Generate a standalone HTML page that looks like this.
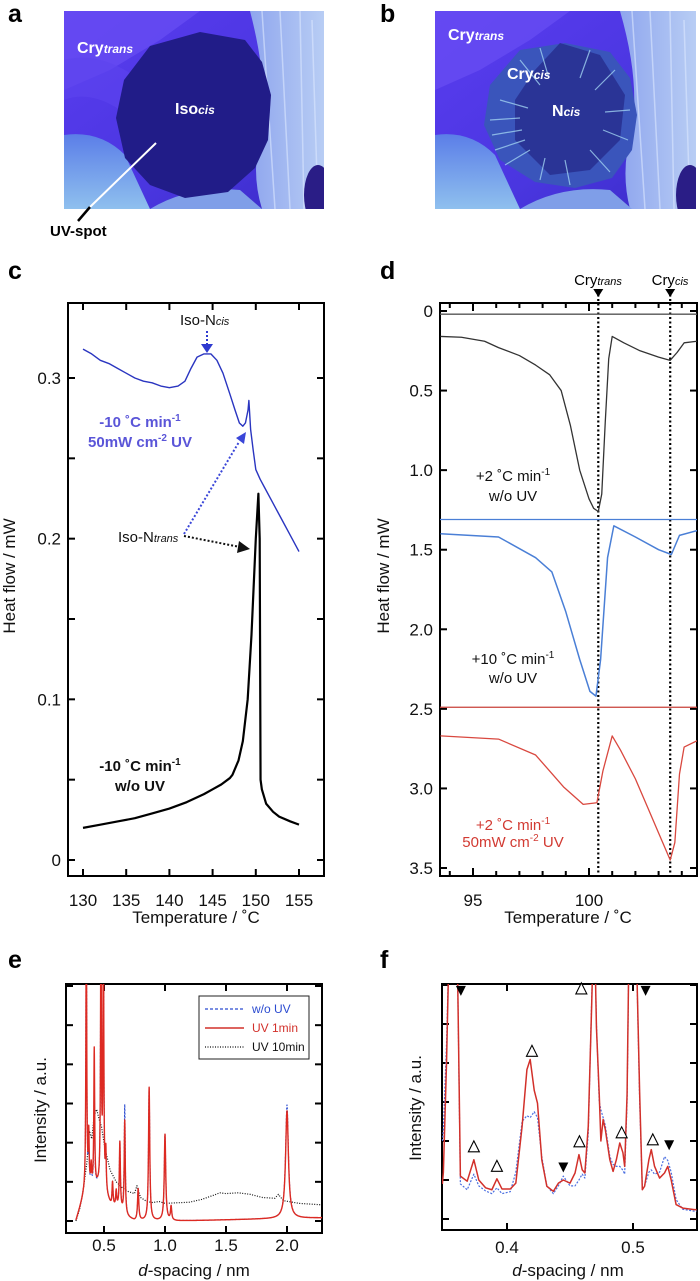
<!DOCTYPE html>
<html><head><meta charset="utf-8">
<style>
html,body{margin:0;padding:0;background:#fff;}
svg{display:block;font-family:"Liberation Sans",Arial,sans-serif;}
.tk{font-size:17px;fill:#111;}
.ttl{font-size:17px;fill:#111;}
.let{font-size:25px;font-weight:bold;fill:#000;}
.ann{font-size:15px;}
.img{font-weight:bold;fill:#fff;}
</style></head>
<body>
<svg id="fig" width="700" height="1281" viewBox="0 0 700 1281" xmlns="http://www.w3.org/2000/svg">
<defs>
<clipPath id="clipA"><rect x="64" y="11" width="260" height="198"/></clipPath>
<clipPath id="clipB"><rect x="435" y="11" width="261" height="198"/></clipPath>
<clipPath id="clipC"><rect x="68" y="303" width="256" height="573"/></clipPath>
<clipPath id="clipD"><rect x="440" y="303" width="257" height="573"/></clipPath>
<clipPath id="clipE"><rect x="66" y="984" width="256" height="249"/></clipPath>
<clipPath id="clipF"><rect x="442" y="984" width="255" height="246"/></clipPath>
<linearGradient id="gBg" x1="0" y1="0" x2="1" y2="1"><stop offset="0" stop-color="#5a3cf0"/><stop offset="0.6" stop-color="#4a36e0"/><stop offset="1" stop-color="#3a2cc8"/></linearGradient>
<linearGradient id="gLight" x1="0" y1="0" x2="1" y2="0"><stop offset="0" stop-color="#8fa6ee"/><stop offset="1" stop-color="#b8cdf4"/></linearGradient>
<linearGradient id="gCyan" x1="0" y1="0" x2="0" y2="1"><stop offset="0" stop-color="#5b7ee8"/><stop offset="1" stop-color="#8fc0ee"/></linearGradient>
</defs>

<text class="let" x="8" y="22">a</text>
<text class="let" x="380" y="22">b</text>
<text class="let" x="8" y="279">c</text>
<text class="let" x="380" y="279">d</text>
<text class="let" x="8" y="968">e</text>
<text class="let" x="380" y="968">f</text>

<g clip-path="url(#clipA)">
<rect x="64" y="11" width="260" height="198" fill="url(#gBg)"/>
<path d="M64,11 L200,11 L160,40 L110,70 L64,90 Z" fill="#6a4ef4" opacity="0.7"/>
<path d="M64,60 Q100,50 140,80 L120,110 Q90,90 64,100 Z" fill="#5d44ee" opacity="0.6"/>
<path d="M250,11 L324,11 L324,209 L262,209 Q250,170 262,130 Q268,80 250,11 Z" fill="url(#gLight)"/>
<path d="M262,11 L275,209 M280,11 L290,209 M300,11 L304,209 M312,20 L318,209" stroke="#dce8ff" stroke-width="1.5" opacity="0.6"/>
<path d="M64,135 Q100,130 125,155 L150,209 L64,209 Z" fill="url(#gCyan)"/>
<path d="M150,209 Q190,185 240,190 L262,209 Z" fill="#7f9ee8"/>
<ellipse cx="318" cy="195" rx="14" ry="30" fill="#2a1d86"/>
<path d="M150,46 L200,32 L245,40 L262,62 L271,95 L268,140 L255,168 L228,192 L185,198 L150,185 L125,158 L116,118 L124,80 Z" fill="#211c88"/>
<text class="img" x="77" y="53" font-size="16">Cry<tspan font-style="italic" font-size="12">trans</tspan></text>
<text class="img" x="175" y="114" font-size="16">Iso<tspan font-style="italic" font-size="12">cis</tspan></text>
<line x1="156" y1="143" x2="90" y2="207" stroke="#fff" stroke-width="2"/>
</g>
<line x1="90" y1="207" x2="78" y2="221" stroke="#000" stroke-width="2.5"/>
<text x="50" y="236" font-size="15" font-weight="bold">UV-spot</text>

<g clip-path="url(#clipB)">
<rect x="435" y="11" width="261" height="198" fill="url(#gBg)"/>
<path d="M435,11 L570,11 L530,40 L480,70 L435,90 Z" fill="#6a4ef4" opacity="0.7"/>
<path d="M620,11 L696,11 L696,209 L630,209 Q620,170 632,130 Q640,80 620,11 Z" fill="url(#gLight)"/>
<path d="M632,11 L645,209 M650,11 L660,209 M670,11 L674,209 M684,20 L690,209" stroke="#dce8ff" stroke-width="1.5" opacity="0.6"/>
<path d="M435,135 Q470,130 495,155 L520,209 L435,209 Z" fill="url(#gCyan)"/>
<path d="M520,209 Q560,185 610,190 L632,209 Z" fill="#7f9ee8"/>
<ellipse cx="690" cy="195" rx="14" ry="30" fill="#2a1d86"/>
<path d="M520,50 L565,43 L610,52 L630,78 L637,115 L632,150 L612,178 L575,188 L535,182 L500,160 L484,125 L490,85 Z" fill="#3a55bb"/>
<path d="M535,70 L560,43 L600,55 L625,95 L620,140 L590,170 L550,175 L515,140 L515,100 Z" fill="#2a3496"/>
<g stroke="#9fd0f0" stroke-width="1.2" opacity="0.8">
<path d="M490,120 L520,118 M492,135 L522,130 M495,150 L525,140 M500,100 L528,108 M505,165 L530,150 M520,60 L540,85 M540,48 L548,75 M590,50 L580,78 M615,70 L595,90 M630,110 L605,112 M628,140 L603,130 M610,172 L590,150 M570,185 L565,160 M540,180 L545,158"/>
</g>
<text class="img" x="448" y="40" font-size="16">Cry<tspan font-style="italic" font-size="12">trans</tspan></text>
<text class="img" x="507" y="79" font-size="16">Cry<tspan font-style="italic" font-size="12">cis</tspan></text>
<text class="img" x="552" y="116" font-size="16">N<tspan font-style="italic" font-size="12">cis</tspan></text>
</g>

<g>
<rect x="68" y="303" width="256" height="573" fill="none" stroke="#000" stroke-width="2"/>
<g id="cTicks"></g>
<g id="cSeries" clip-path="url(#clipC)"></g>
<text class="ttl" x="196" y="923" text-anchor="middle">Temperature / ˚C</text>
<text class="ttl" transform="translate(15,576) rotate(-90)" text-anchor="middle">Heat flow / mW</text>
<text class="ann" x="180" y="325" fill="#111">Iso-N<tspan font-style="italic" font-size="11">cis</tspan></text>
<line x1="207" y1="331" x2="207" y2="345" stroke="#2f3ad0" stroke-width="2" stroke-dasharray="2,2"/>
<path d="M201,344 L213,344 L207,353 Z" fill="#2f3ad0"/>
<text class="ann" x="118" y="542" fill="#111">Iso-N<tspan font-style="italic" font-size="11">trans</tspan></text>
<line x1="184" y1="534" x2="239" y2="442" stroke="#3a46d8" stroke-width="2" stroke-dasharray="2,2"/>
<path d="M236,438 L246,432 L244,444 Z" fill="#3a46d8"/>
<line x1="184" y1="536" x2="240" y2="547" stroke="#111" stroke-width="2" stroke-dasharray="2,2"/>
<path d="M239,541 L250,549 L237,553 Z" fill="#111"/>
<text class="ann" x="140" y="427" text-anchor="middle" font-weight="bold" fill="#5a55d8">-10 ˚C min<tspan font-size="10" dy="-6">-1</tspan></text>
<text class="ann" x="140" y="447" text-anchor="middle" font-weight="bold" fill="#5a55d8">50mW cm<tspan font-size="10" dy="-6">-2</tspan><tspan dy="6"> UV</tspan></text>
<text class="ann" x="140" y="771" text-anchor="middle" font-weight="bold" fill="#111">-10 ˚C min<tspan font-size="10" dy="-6">-1</tspan></text>
<text class="ann" x="140" y="791" text-anchor="middle" font-weight="bold" fill="#111">w/o UV</text>
</g>

<g>
<rect x="440" y="303" width="257" height="573" fill="none" stroke="#000" stroke-width="2"/>
<g id="dTicks"></g>
<g id="dSeries" clip-path="url(#clipD)"></g>
<text class="ttl" x="568" y="923" text-anchor="middle">Temperature / ˚C</text>
<text class="ttl" transform="translate(389,576) rotate(-90)" text-anchor="middle">Heat flow / mW</text>
<text x="598" y="285" font-size="15" text-anchor="middle">Cry<tspan font-style="italic" font-size="11">trans</tspan></text>
<text x="670" y="285" font-size="15" text-anchor="middle">Cry<tspan font-style="italic" font-size="11">cis</tspan></text>
<text class="ann" x="513" y="481" text-anchor="middle" fill="#111">+2 ˚C min<tspan font-size="10" dy="-6">-1</tspan></text>
<text class="ann" x="513" y="501" text-anchor="middle" fill="#111">w/o UV</text>
<text class="ann" x="513" y="664" text-anchor="middle" fill="#111">+10 ˚C min<tspan font-size="10" dy="-6">-1</tspan></text>
<text class="ann" x="513" y="683" text-anchor="middle" fill="#111">w/o UV</text>
<text class="ann" x="513" y="830" text-anchor="middle" fill="#d23a32">+2 ˚C min<tspan font-size="10" dy="-6">-1</tspan></text>
<text class="ann" x="513" y="847" text-anchor="middle" fill="#d23a32">50mW cm<tspan font-size="10" dy="-6">-2</tspan><tspan dy="6"> UV</tspan></text>
</g>

<g>
<rect x="66" y="984" width="256" height="249" fill="none" stroke="#000" stroke-width="2"/>
<g id="eTicks"></g>
<g id="eSeries" clip-path="url(#clipE)"></g>
<text class="ttl" x="194" y="1276" text-anchor="middle"><tspan font-style="italic">d</tspan>-spacing / nm</text>
<text class="ttl" transform="translate(46,1110) rotate(-90)" text-anchor="middle">Intensity  / a.u.</text>
<g>
<rect x="199" y="996" width="110" height="63" fill="#fff" stroke="#222" stroke-width="1"/>
<line x1="205" y1="1009" x2="244" y2="1009" stroke="#2b4bd0" stroke-width="1.3" stroke-dasharray="3,2"/>
<text x="252" y="1013" font-size="12" fill="#2b4bd0">w/o UV</text>
<line x1="205" y1="1028" x2="244" y2="1028" stroke="#d2302a" stroke-width="1.5"/>
<text x="252" y="1032" font-size="12" fill="#d2302a">UV 1min</text>
<line x1="205" y1="1047" x2="244" y2="1047" stroke="#111" stroke-width="1.3" stroke-dasharray="1,1.5"/>
<text x="252" y="1051" font-size="12" fill="#111">UV 10min</text>
</g>
</g>

<g>
<rect x="442" y="984" width="255" height="246" fill="none" stroke="#000" stroke-width="2"/>
<g id="fTicks"></g>
<g id="fSeries" clip-path="url(#clipF)"></g>
<text class="ttl" x="568" y="1276" text-anchor="middle"><tspan font-style="italic">d</tspan>-spacing / nm</text>
<text class="ttl" transform="translate(421,1108) rotate(-90)" text-anchor="middle">Intensity / a.u.</text>
<g id="fMarks"></g>
</g>
</svg>

<script>
const cBlueT  = [130,131,132,133,134,135,136,137,138,139,140,141,141.8,142.5,143.2,144,144.8,145.5,146.2,147,147.6,148.1,148.5,148.8,149.1,149.2,149.4,149.7,150,150.5,151,152,153,154,155];
const cBlueHF = [0.318,0.315,0.311,0.309,0.306,0.303,0.300,0.298,0.297,0.295,0.294,0.295,0.298,0.306,0.313,0.315,0.315,0.311,0.303,0.290,0.280,0.272,0.270,0.272,0.280,0.286,0.268,0.255,0.243,0.237,0.232,0.222,0.212,0.202,0.192];
const cBlackT  = [130,132,134,136,138,140,142,144,145,146,147,147.3,148,148.5,149.06,149.5,150,150.3,150.45,150.55,150.7,151.2,152,152.7,154,155];
const cBlackHF = [0.020,0.022,0.024,0.026,0.029,0.032,0.036,0.041,0.044,0.047,0.051,0.053,0.062,0.074,0.100,0.140,0.200,0.228,0.200,0.050,0.044,0.035,0.030,0.027,0.024,0.022];
const cXTicks = [130,135,140,145,150,155];
const cYTicks = [0,0.05,0.1,0.15,0.2,0.25,0.3];
const cYLabels = ["0","","0.1","","0.2","","0.3"];

const dBlackT  = [93.6,94.5,95.5,96.1,97,97.7,98.3,98.8,99.2,99.6,100,100.2,100.4,100.55,100.7,100.85,101.0,101.5,102.2,103,103.5,103.8,104.1,104.66];
const dBlackHF = [0.16,0.165,0.19,0.23,0.28,0.34,0.40,0.50,0.72,1.0,1.18,1.24,1.26,1.15,0.7,0.3,0.16,0.20,0.25,0.29,0.31,0.26,0.20,0.19];
const dBlueT  = [93.6,96.1,97.7,98.4,99,99.6,100.04,100.3,100.5,100.8,101.07,102,103,103.55,103.9,104.66];
const dBlueHF = [1.40,1.42,1.55,1.64,1.89,2.19,2.39,2.42,2.19,1.55,1.35,1.42,1.50,1.53,1.41,1.38];
const dRedT  = [93.6,96.1,97.7,98.9,99.75,100.34,100.6,101.0,101.36,102,102.5,103,103.5,103.7,103.9,104.1,104.66];
const dRedHF = [2.67,2.69,2.79,2.99,3.10,3.09,2.89,2.67,2.76,2.94,3.11,3.28,3.45,3.34,2.91,2.74,2.70];
const dBaselines = [0.02,1.31,2.49];
const dMarkerT = [100.4,103.5];
const dXTicks = [94,95,96,97,98,99,100,101,102,103,104];
const dXLabels = ["","95","","","","","100","","","",""];
const dYTicks = [0,0.5,1.0,1.5,2.0,2.5,3.0,3.5];
const dYLabels = ["0","0.5","1.0","1.5","2.0","2.5","3.0","3.5"];

const ePeakPos     = [0.355,0.375,0.395,0.42,0.475,0.495,0.515,0.57,0.60,0.63,0.67,0.78,0.87,1.00,1.05,2.00];
const eRedHeights  = [7,1.3,0.5,3.5,7,7,1.0,0.6,0.4,1.7,2.4,0.8,3.4,2.2,0.35,2.75];
const eBlueHeights = [7,1.0,0.5,2.6,7,7,0.9,0.6,0.4,1.7,2.8,0.8,3.4,2.2,0.35,2.9];
const ePeakWidths  = [0.004,0.004,0.004,0.004,0.004,0.004,0.004,0.005,0.005,0.005,0.005,0.006,0.006,0.007,0.006,0.014];
const eBaseX = [0.27,0.30,0.33,0.36,0.45,0.52,0.56,0.62,0.68,0.75,1.1,1.8,2.3];
const eBaseY = [0,0.3,0.6,0.8,0.85,0.6,0.35,0.3,0.1,0,0,0.05,0.08];
const eUV10X = [0.27,0.30,0.33,0.36,0.38,0.40,0.42,0.44,0.46,0.48,0.50,0.52,0.55,0.60,0.65,0.70,0.75,0.77,0.80,0.85,0.90,0.95,1.00,1.20,1.30,1.40,1.45,1.50,1.60,1.70,1.80,1.90,1.93,1.97,2.10,2.30];
const eUV10Y = [0,0.3,0.8,1.5,2.3,2.1,2.7,2.85,2.6,2.4,2.0,1.7,1.3,1.0,0.85,0.75,0.7,0.9,0.6,0.5,0.47,0.5,0.45,0.48,0.55,0.66,0.72,0.7,0.72,0.68,0.6,0.58,0.68,0.52,0.45,0.41];
const eXTicks = [0.5,1.0,1.5,2.0];
const eXLabels = ["0.5","1.0","1.5","2.0"];
const eYTicks = [0,1,2,3,4,5,6];

const fX = [0.3487,0.3495,0.352,0.354,0.3575,0.3605,0.363,0.3684,0.3737,0.3776,0.383,0.388,0.392,0.396,0.4026,0.407,0.412,0.4158,0.4184,0.4216,0.4242,0.4276,0.4316,0.4368,0.4408,0.4447,0.45,0.454,0.4571,0.4597,0.4618,0.4645,0.4671,0.4684,0.4697,0.471,0.4732,0.4745,0.4763,0.478,0.4816,0.4842,0.4868,0.4895,0.492,0.4934,0.4953,0.4968,0.5026,0.5053,0.5074,0.5092,0.5126,0.5145,0.5171,0.5211,0.525,0.5276,0.5303,0.5342,0.5395,0.5487,0.5505];
const fRed = [0.9,1.2,4,7,7,7,1.1,0.97,1.52,1.0,0.8,0.75,1.03,0.77,0.77,0.92,2.38,3.83,4.09,3.3,2.97,1.52,0.84,0.71,0.92,1.0,0.92,1.18,1.65,1.26,1.18,2.38,5.37,7,7,4.9,3.2,2.0,2.55,2.3,1.52,1.22,1.52,1.95,1.7,1.35,3.2,7,7,3.2,0.75,0.84,1.52,1.78,1.35,1.05,1.18,1.35,1.0,0.37,0.28,0.24,0.24];
const fBlue = [2.0,2.3,4.5,7,7,7,0.9,0.75,1.15,0.85,0.72,0.65,0.8,0.65,0.7,1.2,2.5,2.65,2.6,2.75,2.6,1.6,0.85,0.65,0.85,1.1,0.85,0.85,1.0,1.15,1.05,2.2,5.5,7,7,5.0,3.0,2.8,2.6,2.4,1.6,1.4,1.35,1.35,1.25,1.15,3.0,7,7,3.0,0.8,0.85,1.2,1.26,1.15,1.2,1.6,1.5,1.2,0.5,0.25,0.2,0.2];
const fXTicks = [0.4,0.5];
const fXLabels = ["0.4","0.5"];
const fYTicks = [0,1,2,3,4,5,6];
const fOpenMarkD = [0.4590,0.4198,0.3737,0.3920,0.4575,0.4910,0.5157];
const fOpenMarkI = [5.9,4.3,1.85,1.35,1.98,2.21,2.03];
const fFilledMarkD = [0.3634,0.5100,0.4447,0.5287];
const fFilledMarkI = [5.85,5.85,1.32,1.89];

const NS = "http://www.w3.org/2000/svg";
function lin(d0,d1,r0,r1){ return v => r0 + (v-d0)/(d1-d0)*(r1-r0); }
function el(tag, parent){ const e = document.createElementNS(NS, tag); parent.appendChild(e); return e; }
function pathFrom(xs, ys, sx, sy){
  let s = "";
  for (let i=0;i<xs.length;i++){ s += (i?"L":"M") + sx(xs[i]).toFixed(2) + "," + sy(ys[i]).toFixed(2); }
  return s;
}
function interp(xs, ys, x){
  if (x<=xs[0]) return ys[0];
  for (let i=1;i<xs.length;i++){ if (x<=xs[i]) { const t=(x-xs[i-1])/(xs[i]-xs[i-1]); return ys[i-1]+t*(ys[i]-ys[i-1]); } }
  return ys[ys.length-1];
}
function drawTicks(g, vals, scale, isX, a0, a1, len, labels, labelPos, prefix){
  for (let i=0;i<vals.length;i++){
    const p = scale(vals[i]);
    const L = Array.isArray(len) ? len[i] : len;
    const t1 = el("line", g);
    
    
    const t2 = el("line", g);
    
    
    if (isX){
      t1.setAttribute("x1",p); t1.setAttribute("x2",p); t1.setAttribute("y1",a1); t1.setAttribute("y2",a1-L);
      t2.setAttribute("x1",p); t2.setAttribute("x2",p); t2.setAttribute("y1",a0); t2.setAttribute("y2",a0+L);
    } else {
      t1.setAttribute("y1",p); t1.setAttribute("y2",p); t1.setAttribute("x1",a0); t1.setAttribute("x2",a0+L);
      t2.setAttribute("y1",p); t2.setAttribute("y2",p); t2.setAttribute("x1",a1); t2.setAttribute("x2",a1-L);
    }
    [t1,t2].forEach(t=>{ t.setAttribute("stroke","#000"); t.setAttribute("stroke-width","2"); });
    if (labels && labels[i]){
      const tx = el("text", g);
      
      
      tx.setAttribute("class","tk");
      if (isX){ tx.setAttribute("x",p); tx.setAttribute("y",labelPos); tx.setAttribute("text-anchor","middle"); }
      else { tx.setAttribute("x",labelPos); tx.setAttribute("y",p+6); tx.setAttribute("text-anchor","end"); }
      tx.textContent = labels[i];
    }
  }
}
function addPath(g, d, stroke, width, dash, name){
  const p = el("path", g);
  
  
  p.setAttribute("d", d); p.setAttribute("fill","none"); p.setAttribute("stroke",stroke);
  p.setAttribute("stroke-width",width); p.setAttribute("stroke-linejoin","round");
  if (dash) p.setAttribute("stroke-dasharray",dash);
  return p;
}

const cx = lin(130,155,83,299);
const cy = lin(0,0.3,860,378);
drawTicks(document.getElementById("cTicks"), cXTicks, cx, true, 303, 876, 7, cXTicks.map(String), 906, "c-x");
drawTicks(document.getElementById("cTicks"), cYTicks, cy, false, 68, 324, 7, cYLabels, 61, "c-y");
const cS = document.getElementById("cSeries");
addPath(cS, pathFrom(cBlueT, cBlueHF, cx, cy), "#2a35c0", 1.4, null, "series-uv-cooling");
addPath(cS, pathFrom(cBlackT, cBlackHF, cx, cy), "#000", 2.2, null, "series-no-uv-cooling");

const dx = lin(95,100,473,589);
const dy = lin(0,3.5,311,868);
const dLen = dXTicks.map(v => (v===95||v===100)?8:5);
drawTicks(document.getElementById("dTicks"), dXTicks, dx, true, 303, 876, dLen, dXLabels, 906, "d-x");
drawTicks(document.getElementById("dTicks"), dYTicks, dy, false, 440, 697, 7, dYLabels, 433, "d-y");
const dS = document.getElementById("dSeries");
const baseCols = ["#555","#4a7fd6","#c8403a"];
for (let i=0;i<dBaselines.length;i++){
  const b = el("line", dS);
  
  
  b.setAttribute("x1",440); b.setAttribute("x2",697);
  b.setAttribute("y1",dy(dBaselines[i])); b.setAttribute("y2",dy(dBaselines[i]));
  b.setAttribute("stroke",baseCols[i]); b.setAttribute("stroke-width","1.3");
}
addPath(dS, pathFrom(dBlackT, dBlackHF, dx, dy), "#333", 1.3, null, "series-heating-2-no-uv");
addPath(dS, pathFrom(dBlueT, dBlueHF, dx, dy), "#4a7fd6", 1.5, null, "series-heating-10-no-uv");
addPath(dS, pathFrom(dRedT, dRedHF, dx, dy), "#d9483f", 1.3, null, "series-heating-2-uv");
const dT = document.getElementById("dTicks");
for (let i=0;i<dMarkerT.length;i++){
  const x = dx(dMarkerT[i]);
  const v = el("line", dT);
  
  
  v.setAttribute("x1",x); v.setAttribute("x2",x); v.setAttribute("y1",290); v.setAttribute("y2",876);
  v.setAttribute("stroke","#000"); v.setAttribute("stroke-width","2.2"); v.setAttribute("stroke-dasharray","2,2.5");
  const tri = el("path", dT);
  
  
  tri.setAttribute("d", `M${x-5},289 L${x+5},289 L${x},297 Z`); tri.setAttribute("fill","#000");
}

const ex = lin(0.5,2.0,104,287);
const ey = lin(0,6,1221,986);
drawTicks(document.getElementById("eTicks"), eXTicks, ex, true, 984, 1233, 7, eXLabels, 1251, "e-x");
drawTicks(document.getElementById("eTicks"), eYTicks, ey, false, 66, 322, 7, null, 0, "e-y");
function spectrum(heights){
  const xs=[], ys=[];
  for (let x=0.27; x<=2.3; x+=0.001){
    let v = interp(eBaseX, eBaseY, x);
    for (let k=0;k<ePeakPos.length;k++){ const u=(x-ePeakPos[k])/ePeakWidths[k]; v += heights[k]/(1+u*u); }
    xs.push(x); ys.push(Math.min(v,7));
  }
  return [xs,ys];
}
const eS = document.getElementById("eSeries");
addPath(eS, pathFrom(eUV10X, eUV10Y, ex, ey), "#111", 1.2, "1,1.5", "series-uv-10min");
const eb = spectrum(eBlueHeights);
addPath(eS, pathFrom(eb[0], eb[1], ex, ey), "#2b4bd0", 1.1, "2,1.5", "series-no-uv");
const er = spectrum(eRedHeights);
addPath(eS, pathFrom(er[0], er[1], ex, ey), "#dd2a22", 1.4, null, "series-uv-1min");

const fx = lin(0.4,0.5,507,633);
const fy = lin(0,6,1219,985);
drawTicks(document.getElementById("fTicks"), fXTicks, fx, true, 984, 1230, 7, fXLabels, 1253, "f-x");
drawTicks(document.getElementById("fTicks"), fYTicks, fy, false, 442, 697, 7, null, 0, "f-y");
const fS = document.getElementById("fSeries");
addPath(fS, pathFrom(fX, fBlue, fx, fy), "#4a6ee0", 1.2, "2,1.5", "series-f-no-uv");
addPath(fS, pathFrom(fX, fRed, fx, fy), "#d2302a", 1.5, null, "series-f-uv-1min");
const fM = document.getElementById("fMarks");
for (let i=0;i<fOpenMarkD.length;i++){
  const x = fx(fOpenMarkD[i]), y = fy(fOpenMarkI[i]);
  const m = el("path", fM);
  
  
  m.setAttribute("d", `M${x},${y-6} L${x+5.5},${y+5} L${x-5.5},${y+5} Z`);
  m.setAttribute("fill","#fff"); m.setAttribute("stroke","#000"); m.setAttribute("stroke-width","1.1");
}
for (let i=0;i<fFilledMarkD.length;i++){
  const x = fx(fFilledMarkD[i]), y = fy(fFilledMarkI[i]);
  const m = el("path", fM);
  
  
  m.setAttribute("d", `M${x-5},${y-5} L${x+5},${y-5} L${x},${y+5} Z`);
  m.setAttribute("fill","#000");
}
</script>
</body></html>
